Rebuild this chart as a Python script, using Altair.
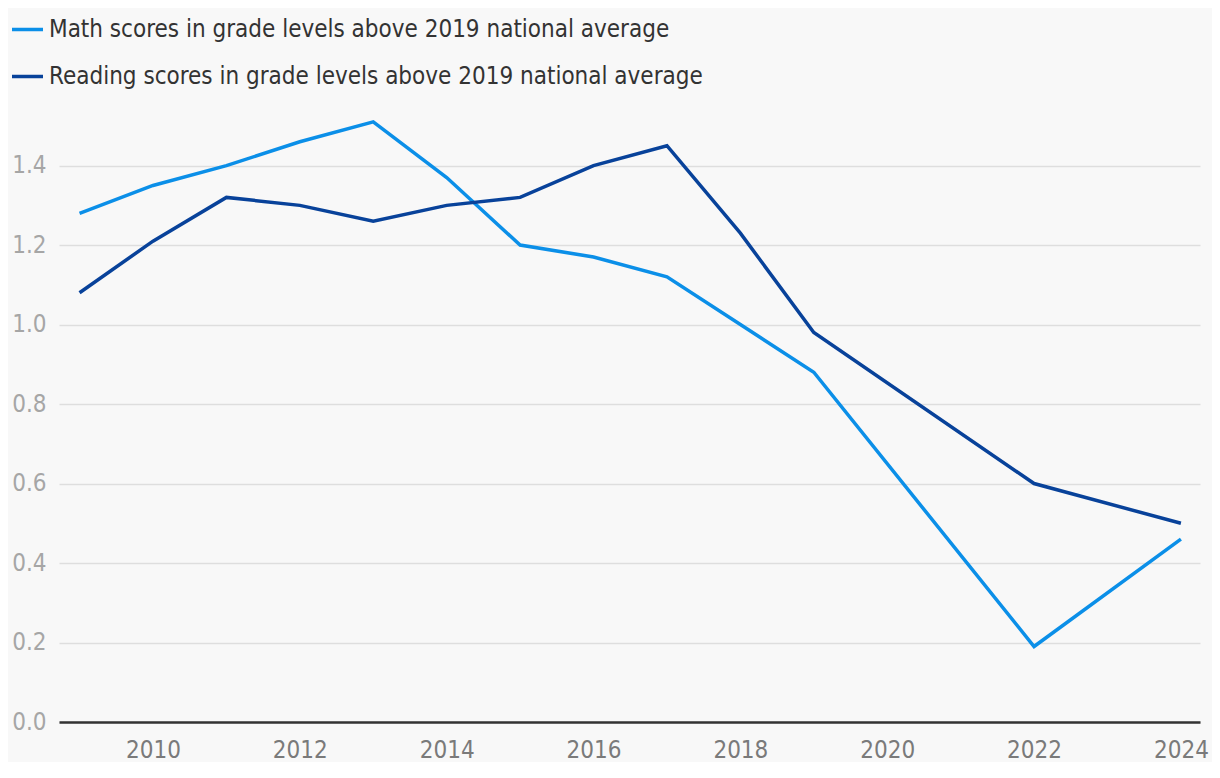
import altair as alt
import pandas as pd

years = [2009, 2010, 2011, 2012, 2013, 2014, 2015, 2016, 2017, 2018, 2019, 2022, 2024]
math = [1.28, 1.35, 1.40, 1.46, 1.51, 1.37, 1.20, 1.17, 1.12, 1.00, 0.88, 0.19, 0.46]
reading = [1.08, 1.21, 1.32, 1.30, 1.26, 1.30, 1.32, 1.40, 1.45, 1.23, 0.98, 0.60, 0.50]
series_names = ["Math scores in grade levels above 2019 national average",
                "Reading scores in grade levels above 2019 national average"]
colors = ["#0b8fe8", "#08429a"]

rows = []
for y, m, r in zip(years, math, reading):
    rows.append({"year": y, "value": m, "series": series_names[0]})
    rows.append({"year": y, "value": r, "series": series_names[1]})
df = pd.DataFrame(rows)

FONT = "Liberation Sans Narrow, DejaVu Sans Condensed, Roboto, sans-serif"

chart = alt.Chart(df).mark_line(strokeWidth=3.5).encode(
    x=alt.X("year:Q",
            scale=alt.Scale(domain=[2008.72, 2024.26], nice=False, zero=False),
            axis=alt.Axis(values=list(range(2010, 2025, 2)), format="d", title=None,
                          grid=False, ticks=False, domainColor="#333333", domainWidth=2.5,
                          labelColor="#7a7a7a", labelFontSize=24, labelPadding=16,
                          labelFont=FONT)),
    y=alt.Y("value:Q",
            scale=alt.Scale(domain=[0, 1.55], nice=False),
            axis=alt.Axis(values=[0, 0.2, 0.4, 0.6, 0.8, 1.0, 1.2, 1.4], format=".1f", title=None,
                          domain=False, ticks=False, gridColor="#dedede", gridWidth=1.5,
                          labelColor="#a6a6a6", labelFontSize=24, labelPadding=13,
                          labelFont=FONT)),
    color=alt.Color("series:N",
                    scale=alt.Scale(domain=series_names, range=colors),
                    legend=alt.Legend(title=None, orient="none", legendX=-49, legendY=-94,
                                      symbolType="stroke", symbolSize=961, symbolStrokeWidth=3.5,
                                      labelFontSize=24, labelColor="#333333", labelFont=FONT,
                                      rowPadding=17, labelOffset=4, labelLimit=900)),
).properties(
    width=1141, height=616,
    autosize=alt.AutoSizeParams(type="none"),
    padding={"left": 51, "top": 98, "right": 12, "bottom": 40},
    background="#f8f8f8",
).configure_view(stroke=None, fill="#f8f8f8")

chart.save("out.html", embed_options={"renderer": "svg", "actions": False})
